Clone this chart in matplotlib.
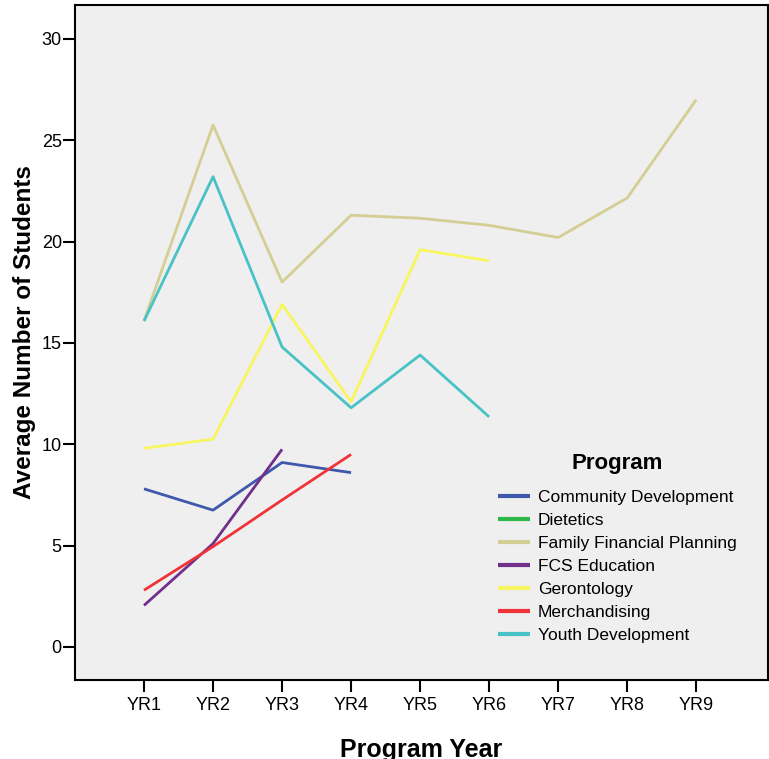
import matplotlib
matplotlib.use("Agg")
import matplotlib.pyplot as plt
import numpy as np

plt.rcParams['font.family'] = ['Liberation Sans', 'DejaVu Sans']

years = ["YR1", "YR2", "YR3", "YR4", "YR5", "YR6", "YR7", "YR8", "YR9"]
community_dev = [7.8, 6.75, 9.1, 8.6]
dietetics = []
family_fin = [16.1, 25.75, 18.0, 21.3, 21.15, 20.8, 20.2, 22.15, 27.0]
fcs_edu = [2.05, 5.1, 9.75]
gerontology = [9.8, 10.25, 16.9, 12.1, 19.6, 19.05]
merchandising = [2.8, 4.95, 7.25, 9.5]
youth_dev = [16.08, 23.2, 14.8, 11.8, 14.4, 11.35]

series = [
    ("Community Development", community_dev, "#3E58AC"),
    ("Dietetics", dietetics, "#2EB848"),
    ("Family Financial Planning", family_fin, "#D4CE95"),
    ("FCS Education", fcs_edu, "#702F8A"),
    ("Gerontology", gerontology, "#F8F65F"),
    ("Merchandising", merchandising, "#EF3338"),
    ("Youth Development", youth_dev, "#48C2C5"),
]

fig = plt.figure(figsize=(7.69, 7.59), dpi=100)
ax = fig.add_axes([75/769, 1-680/759, (768-75)/769, (680-5)/759])
ax.set_facecolor("#EFEFEF")

for name, vals, col in series:
    x = np.arange(1, len(vals) + 1)
    ax.plot(x, vals, color=col, lw=2.0, label=name, solid_capstyle='butt')

ax.set_xlim(0, 10.04)
ax.set_ylim(-1.63, 31.67)
ax.set_xticks(np.arange(1, len(years) + 1))
ax.set_xticklabels(years)
ax.set_yticks([0, 5, 10, 15, 20, 25, 30])
ax.tick_params(axis='both', direction='out', length=8.5, width=1.5, labelsize=13, pad=1)
ax.tick_params(axis='x', pad=4)
for s in ax.spines.values():
    s.set_linewidth(1.5)

ax.set_ylabel("Average Number of Students", fontsize=17.5, fontweight='bold')
ax.yaxis.set_label_coords(-0.0567, 0.515)
ax.set_xlabel("Program Year", fontsize=18, fontweight='bold')
ax.xaxis.set_label_coords(0.5, -0.086)

leg = ax.legend(title="Program", loc='upper left', bbox_to_anchor=(0.600, 0.346),
                frameon=False, fontsize=12.5, handlelength=1.85, handletextpad=0.45,
                labelspacing=0.45, borderaxespad=0,
                title_fontproperties={'weight': 'bold', 'size': 16})
leg._legend_box.sep = 11
for line in leg.get_lines():
    line.set_linewidth(3)

fig.savefig("out.png", dpi=100, facecolor="white")
